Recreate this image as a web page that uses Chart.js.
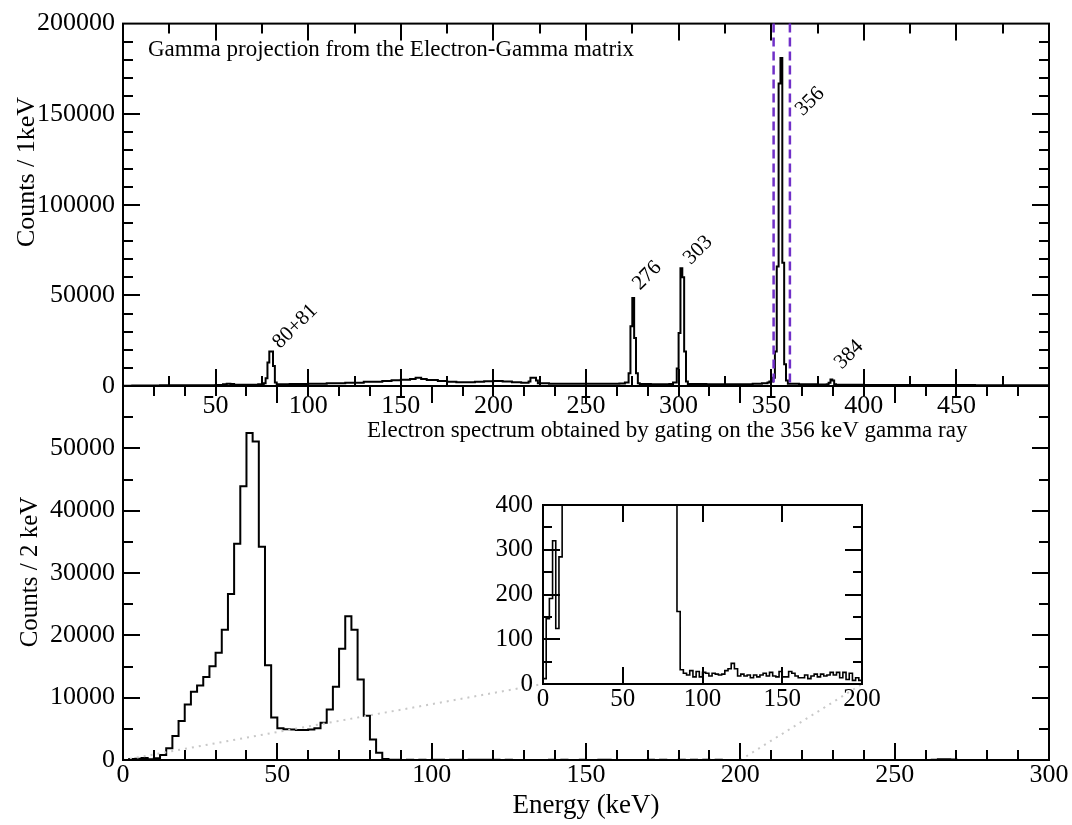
<!DOCTYPE html>
<html>
<head>
<meta charset="utf-8">
<title>Gamma projection and gated electron spectrum</title>
<script src="https://cdn.jsdelivr.net/npm/chart.js@4.4.1/dist/chart.umd.min.js"></script>
<style>
    html, body { margin: 0; padding: 0; background: #fff; }
    #wrap { position: relative; width: 1072px; height: 825px; }
    canvas { position: absolute; }
</style>
</head>
<body>
<div id="wrap">
    <canvas id="electronChart" width="1072" height="825" style="left:0;top:0;width:1072px;height:825px"></canvas>
    <canvas id="gammaChart" width="1072" height="430" style="left:0;top:0;width:1072px;height:430px"></canvas>
    <canvas id="insetChart" width="410" height="240" style="left:480px;top:480px;width:410px;height:240px"></canvas>
</div>
<script>
// Gamma projection, 1 keV bins (left bin edge in keV, counts); flat background stored sparsely
const gammaEnergy = [0, 5, 10, 20, 30, 40, 50, 54, 56, 58, 60, 65, 70, 73, 76, 77, 78, 79, 80, 81, 82, 83, 86, 90,
    100, 110, 120, 130, 140, 145, 150, 155, 158, 161, 164, 170, 175, 180, 190, 195, 200, 205, 210, 215, 219, 220, 223, 224,
    230, 240, 250, 260, 268, 271, 273, 274, 275, 276, 277, 278, 279, 285, 295, 297, 299, 300, 301, 302, 303, 304, 305,
    315, 330, 340, 345, 348, 349, 351, 352, 353, 354, 355, 356, 357, 358, 359, 365, 375, 380, 381, 382, 383, 384, 385,
    400, 430, 460, 500];
const gammaCounts = [200, 250, 300, 350, 400, 450, 550, 900, 1300, 1100, 700, 650, 700, 900, 1500, 4300, 13000, 19000, 19000, 11000, 2000, 1000, 900, 1100,
    1300, 1500, 1800, 2300, 2800, 3200, 3500, 3800, 4500, 3800, 3300, 2800, 2400, 2100, 2300, 2600, 2700, 2500, 2100, 1800, 2500, 4500, 3000, 1500,
    1300, 1200, 1200, 1200, 1400, 2000, 7000, 33000, 48500, 26500, 7000, 1500, 1100, 1000, 1100, 2000, 9700, 29300, 65000, 60000, 19000, 2500, 1100,
    1000, 1000, 1200, 1500, 2000, 2500, 4500, 19000, 66000, 167000, 181000, 68000, 12000, 3000, 1200, 900, 800, 900, 1800, 3600, 3000, 1000, 700,
    600, 500, 400, 400];

// Peak labels and the gate used for the electron spectrum
const peakLabels = ['80+81', '276', '303', '356', '384'];
const peakLabelX = [93, 283, 310.5, 371, 392];
const peakLabelY = [32900, 60900, 75000, 157000, 17300];
const gateEdges = [351.3, 360.1];

// Electron spectrum gated on 356 keV, 2 keV bins starting at 0 keV
const electronCounts = [
    12, 146, 191, 320, 124, 284, 800, 1870, 3840, 6250,
    8900, 10950, 11960, 13300, 15060, 17200, 20900, 26650, 34700, 43900,
    52440, 51100, 34200, 15200, 6800, 5100, 4950, 4900, 4800, 4800,
    4900, 5100, 5980, 8100, 11750, 17840, 23070, 20900, 12900, 7100,
    3300, 1170, 162, 32, 24, 20, 30, 16, 28, 16,
    26, 24, 18, 24, 22, 20, 22, 30, 34, 46,
    34, 18, 22, 18, 20, 14, 20, 16, 20, 24,
    18, 26, 18, 16, 28, 16, 16, 28, 24, 18,
    14, 14, 20, 12, 18, 22, 16, 22, 18, 20,
    26, 20, 26, 14, 26, 10, 24, 8, 14, 8,
    12, 10, 14, 9, 12, 10, 8, 11, 9, 12,
    10, 8, 12, 9, 10, 8, 11, 9, 10, 12,
    9, 10, 8, 12, 10, 9, 11, 8, 10, 9,
    12, 60, 120, 140, 70, 14, 10, 9, 11, 8,
    10, 9, 12, 8, 10, 9, 8, 10, 9, 8
];
const electronBinWidth = 2;

const serif = "'Liberation Serif', 'Times New Roman', serif";
const tickFont = { family: serif, size: 26 };

// Build histogram points: left bin edges plus the closing edge
function gammaPoints() {
    return gammaEnergy.map((e, i) => ({ x: e, y: gammaCounts[i] }));
}

function electronPoints() {
    const pts = electronCounts.map((c, i) => ({ x: i * electronBinWidth, y: c }));
    pts.push({ x: electronCounts.length * electronBinWidth, y: electronCounts[electronCounts.length - 1] });
    return pts;
}

// Box frame with inward ticks on all four sides
const frameTicks = {
    id: 'frameTicks',
    afterDatasetsDraw(chart, args, o) {
        const { ctx, chartArea: a, scales: { x, y } } = chart;
        ctx.save();
        ctx.strokeStyle = '#000';
        ctx.lineWidth = 2;
        ctx.beginPath();
        const eps = 1e-6;
        for (let v = x.min + o.xMinor; v < x.max - eps; v += o.xMinor) {
            const major = Math.abs(v / o.xMajor - Math.round(v / o.xMajor)) < eps;
            const len = major ? o.majorLen : o.minorLen;
            const px = Math.round(x.getPixelForValue(v));
            ctx.moveTo(px, a.bottom); ctx.lineTo(px, a.bottom - len);
            ctx.moveTo(px, a.top); ctx.lineTo(px, a.top + len);
        }
        for (let v = y.min + o.yMinor; v < y.max - eps; v += o.yMinor) {
            const major = Math.abs(v / o.yMajor - Math.round(v / o.yMajor)) < eps;
            const len = major ? o.majorLen : o.minorLen;
            const py = Math.round(y.getPixelForValue(v));
            ctx.moveTo(a.left, py); ctx.lineTo(a.left + len, py);
            ctx.moveTo(a.right, py); ctx.lineTo(a.right - len, py);
        }
        ctx.stroke();
        ctx.strokeRect(a.left, a.top, a.right - a.left, a.bottom - a.top);
        ctx.restore();
    }
};

// Free text: titles, axis titles and rotated peak labels
const textLayer = {
    id: 'textLayer',
    afterDraw(chart, args, o) {
        const { ctx, scales: { x, y } } = chart;
        ctx.save();
        ctx.fillStyle = '#000';
        (o.items || []).forEach(t => {
            ctx.font = t.size + 'px ' + serif;
            ctx.textAlign = t.align || 'left';
            ctx.textBaseline = t.baseline || 'alphabetic';
            let px, py;
            if (t.data) { px = x.getPixelForValue(t.x); py = y.getPixelForValue(t.y); }
            else { px = t.x; py = t.y; }
            ctx.save();
            ctx.translate(px, py);
            if (t.rot) ctx.rotate(t.rot);
            ctx.fillText(t.text, 0, 0);
            ctx.restore();
        });
        ctx.restore();
    }
};

// Dashed purple gate lines on the gamma projection
const gateLines = {
    id: 'gateLines',
    afterDatasetsDraw(chart) {
        const { ctx, chartArea: a, scales: { x } } = chart;
        ctx.save();
        ctx.strokeStyle = '#7030c8';
        ctx.lineWidth = 2.5;
        ctx.setLineDash([9, 5]);
        gateEdges.forEach(g => {
            const px = x.getPixelForValue(g);
            ctx.beginPath();
            ctx.moveTo(px, a.top);
            ctx.lineTo(px, a.bottom);
            ctx.stroke();
        });
        ctx.restore();
    }
};

function axisBase(min, max, step, padding, fit, hide) {
    return {
        type: 'linear', min: min, max: max,
        afterFit: fit,
        grid: { display: false, drawTicks: false },
        border: { display: false },
        ticks: {
            stepSize: step, padding: padding, font: tickFont, color: '#000',
            autoSkip: false, maxRotation: 0,
            callback: v => (hide && hide.includes(v)) ? '' : String(v)
        }
    };
}

function createInsetChart() {
    const ctx = document.getElementById('insetChart').getContext('2d');
    const whiteBg = {
        id: 'whiteBg',
        beforeDraw(chart) {
            const { ctx, chartArea: a } = chart;
            ctx.save();
            ctx.fillStyle = '#fff';
            ctx.fillRect(a.left, a.top, a.right - a.left, a.bottom - a.top);
            ctx.restore();
        }
    };
    const font = { family: serif, size: 25 };
    const xAxis = axisBase(0, 200, 50, 0, s => { s.height = 36; });
    xAxis.ticks.font = font;
    const yAxis = axisBase(0, 400, 100, 10, s => { s.width = 63; });
    yAxis.ticks.font = font;
    return new Chart(ctx, {
        type: 'line',
        data: {
            datasets: [{
                data: electronPoints(),
                stepped: 'before',
                borderColor: '#000',
                borderWidth: 1.6,
                pointRadius: 0,
                fill: false
            }]
        },
        options: {
            responsive: false,
            animation: false,
            layout: { padding: { left: 0, right: 28, top: 17, bottom: 0 } },
            plugins: {
                legend: { display: false },
                tooltip: { enabled: false },
                frameTicks: { xMinor: 50, xMajor: 50, yMinor: 50, yMajor: 100, majorLen: 17, minorLen: 9 }
            },
            scales: { x: xAxis, y: yAxis }
        },
        plugins: [whiteBg, frameTicks]
    });
}

function createGammaChart() {
    const ctx = document.getElementById('gammaChart').getContext('2d');
    const items = [
        { text: 'Gamma projection from the Electron-Gamma matrix', x: 148, y: 56, size: 23 },
        { text: 'Counts / 1keV', x: 27, y: 172, size: 26, align: 'center', baseline: 'middle', rot: -Math.PI / 2 }
    ];
    peakLabels.forEach((t, i) => {
        items.push({ text: t, data: true, x: peakLabelX[i], y: peakLabelY[i], size: 21, align: 'center', baseline: 'middle', rot: -Math.PI / 4 });
    });
    return new Chart(ctx, {
        type: 'line',
        data: {
            datasets: [{
                data: gammaPoints(),
                stepped: 'before',
                borderColor: '#000',
                borderWidth: 2,
                pointRadius: 0,
                fill: false
            }]
        },
        options: {
            responsive: false,
            animation: false,
            layout: { padding: { left: 0, right: 23, top: 15, bottom: 0 } },
            plugins: {
                legend: { display: false },
                tooltip: { enabled: false },
                frameTicks: { xMinor: 25, xMajor: 50, yMinor: 10000, yMajor: 50000, majorLen: 17, minorLen: 10 },
                textLayer: { items: items }
            },
            scales: {
                x: axisBase(0, 500, 50, 5, s => { s.height = 44; }, [0, 500]),
                y: axisBase(0, 200000, 50000, 8, s => { s.width = 123; })
            }
        },
        plugins: [frameTicks, gateLines, textLayer]
    });
}

function createElectronChart(inset) {
    const ctx = document.getElementById('electronChart').getContext('2d');
    // Dotted guides from the 0-200 keV range to the inset's lower corners
    const zoomGuides = {
        id: 'zoomGuides',
        afterDatasetsDraw(chart) {
            const { ctx, scales: { x, y } } = chart;
            const ia = inset.chartArea;
            const off = 480;
            ctx.save();
            ctx.strokeStyle = '#c8c8c8';
            ctx.lineWidth = 2;
            ctx.setLineDash([2, 5]);
            ctx.beginPath();
            ctx.moveTo(x.getPixelForValue(0), y.getPixelForValue(0));
            ctx.lineTo(off + ia.left, off + ia.bottom);
            ctx.moveTo(x.getPixelForValue(200), y.getPixelForValue(0));
            ctx.lineTo(off + ia.right, off + ia.bottom);
            ctx.stroke();
            ctx.restore();
        }
    };
    const items = [
        { text: 'Electron spectrum obtained by gating on the 356 keV gamma ray', x: 367, y: 437, size: 23 },
        { text: 'Counts / 2 keV', x: 30, y: 572, size: 25, align: 'center', baseline: 'middle', rot: -Math.PI / 2 },
        { text: 'Energy (keV)', x: 586, y: 806, size: 27, align: 'center', baseline: 'middle' }
    ];
    return new Chart(ctx, {
        type: 'line',
        data: {
            datasets: [{
                data: electronPoints(),
                stepped: 'before',
                borderColor: '#000',
                borderWidth: 2,
                pointRadius: 0,
                fill: false
            }]
        },
        options: {
            responsive: false,
            animation: false,
            layout: { padding: { left: 0, right: 23, top: 386, bottom: 0 } },
            plugins: {
                legend: { display: false },
                tooltip: { enabled: false },
                frameTicks: { xMinor: 10, xMajor: 50, yMinor: 5000, yMajor: 10000, majorLen: 17, minorLen: 10 },
                textLayer: { items: items }
            },
            scales: {
                x: axisBase(0, 300, 50, 0, s => { s.height = 65; }),
                y: axisBase(0, 60000, 10000, 8, s => { s.width = 123; }, [60000])
            }
        },
        plugins: [zoomGuides, frameTicks, textLayer]
    });
}

const insetChart = createInsetChart();
createElectronChart(insetChart);
createGammaChart();
</script>
</body>
</html>
